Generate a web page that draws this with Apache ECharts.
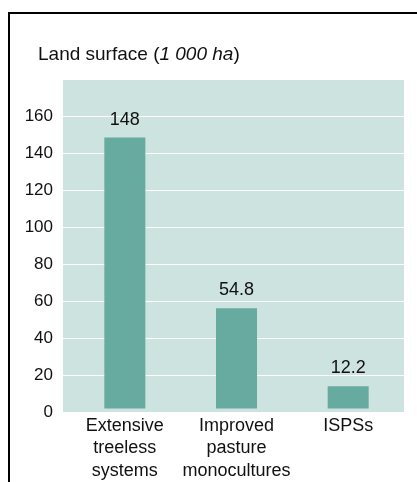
<!DOCTYPE html>
<html>
<head>
<meta charset="utf-8">
<script src="https://cdn.jsdelivr.net/npm/echarts@6/dist/echarts.min.js"></script>
<style>
  html, body { margin: 0; padding: 0; background: #fff; }
  #chart { width: 417px; height: 482px; }
</style>
</head>
<body>
<div id="chart"></div>
<script>
// Land surface by livestock system, thousand hectares
const categories = ['Extensive\ntreeless\nsystems', 'Improved\npasture\nmonocultures', 'ISPSs'];
const landSurface = [148, 54.8, 12.2];
const yTicks = { min: 0, max: 180, interval: 20 };

const FONT = '"Liberation Sans", Arial, Helvetica, sans-serif';
const TEXT = '#111';
const FS = 18;
const TOP = 79, BOTTOM = 70, RIGHT = 13;

const chart = echarts.init(document.getElementById('chart'), null, { renderer: 'canvas' });

chart.setOption({
  animation: false,
  backgroundColor: '#fff',
  textStyle: { fontFamily: FONT },
  title: {
    left: 33,
    top: 40,
    text: '{n|Land surface (}{i|1 000 ha}{n|)}',
    textStyle: {
      rich: {
        n: { fontFamily: FONT, fontSize: 19, color: TEXT, fontWeight: 'normal' },
        i: { fontFamily: FONT, fontSize: 19, color: TEXT, fontWeight: 'normal', fontStyle: 'italic' }
      }
    }
  },
  graphic: [{
    type: 'polyline',
    shape: { points: [[9, 482], [9, 13], [417, 13]] },
    style: { stroke: '#000', lineWidth: 2, fill: null }
  }],
  grid: [
    // shaded panel with value axis and white grid lines
    { left: 63, right: RIGHT, top: TOP, bottom: BOTTOM, show: true,
      backgroundColor: '#cde3df', borderWidth: 0 },
    // bars and category labels
    { left: 69, right: RIGHT, top: TOP, bottom: BOTTOM }
  ],
  xAxis: [
    { gridIndex: 0, type: 'value', show: false, min: 0, max: 1 },
    {
      gridIndex: 1,
      type: 'category',
      data: categories,
      axisLine: { show: false },
      axisTick: { show: false },
      axisLabel: {
        margin: 6,
        fontFamily: FONT,
        fontSize: FS,
        lineHeight: 22.5,
        color: TEXT,
        interval: 0
      }
    }
  ],
  yAxis: [
    {
      gridIndex: 0,
      type: 'value',
      min: yTicks.min,
      max: yTicks.max,
      interval: yTicks.interval,
      axisLine: { show: false },
      axisTick: { show: false },
      axisLabel: {
        margin: 10,
        fontFamily: FONT,
        fontSize: 17,
        color: TEXT,
        formatter: v => (v === yTicks.max ? '' : String(v))
      },
      splitLine: { show: true, lineStyle: { color: '#ffffff', width: 1 } }
    },
    {
      gridIndex: 1,
      type: 'value',
      min: yTicks.min,
      max: yTicks.max,
      interval: yTicks.interval,
      show: false,
      splitLine: { show: false }
    }
  ],
  series: [{
    type: 'bar',
    xAxisIndex: 1,
    yAxisIndex: 1,
    data: landSurface,
    barWidth: 41,
    itemStyle: { color: '#67aa9f' },
    label: {
      show: true,
      position: 'top',
      distance: 9,
      fontFamily: FONT,
      fontSize: FS,
      color: TEXT,
      formatter: p => String(p.value)
    }
  }]
});
</script>
</body>
</html>
